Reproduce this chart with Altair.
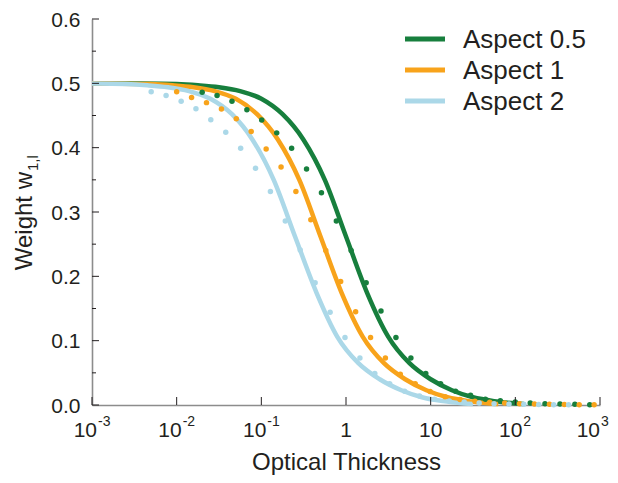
import altair as alt
import pandas as pd

series_names = ["Aspect 0.5", "Aspect 1", "Aspect 2"]
colors = ["#177f3d", "#f8a31b", "#abd8e8"]

# solid curves
tau_line_05 = [0.001, 0.00316, 0.01, 0.0178, 0.0316, 0.0562, 0.1, 0.178, 0.316, 0.562, 1.0, 1.78, 3.16, 5.62, 10.0, 17.8, 31.6, 56.2, 100.0, 126.0]
w_line_05 = [0.500, 0.4997, 0.4988, 0.497, 0.494, 0.488, 0.476, 0.452, 0.412, 0.350, 0.262, 0.174, 0.106, 0.065, 0.040, 0.023, 0.012, 0.006, 0.0025, 0.0015]
tau_line_1 = [0.001, 0.00158, 0.005, 0.0089, 0.0158, 0.0281, 0.05, 0.089, 0.158, 0.281, 0.5, 0.89, 1.58, 2.81, 5.0, 8.9, 15.8, 28.1, 50.0, 63.0]
w_line_1 = [0.500, 0.4997, 0.4988, 0.497, 0.494, 0.488, 0.476, 0.452, 0.412, 0.350, 0.262, 0.174, 0.106, 0.065, 0.040, 0.023, 0.012, 0.006, 0.0025, 0.0015]
tau_line_2 = [0.001, 0.0025, 0.0045, 0.0079, 0.014, 0.025, 0.045, 0.079, 0.14, 0.25, 0.45, 0.79, 1.4, 2.5, 4.5, 7.9, 14.0, 25.0, 31.6]
w_line_2 = [0.4996, 0.4988, 0.497, 0.494, 0.488, 0.476, 0.452, 0.412, 0.350, 0.262, 0.174, 0.106, 0.065, 0.040, 0.023, 0.012, 0.006, 0.0025, 0.0015]

# dotted series
tau_dot_05 = [0.02, 0.03, 0.045, 0.0675, 0.101, 0.152, 0.228, 0.342, 0.513, 0.769, 1.15, 1.73, 2.59, 3.89, 5.84, 8.76, 13.1, 19.7, 29.6, 44.3, 66.5, 99.8, 150, 224, 337, 505, 757]
w_dot_05 = [0.486, 0.481, 0.472, 0.459, 0.443, 0.423, 0.399, 0.367, 0.330, 0.286, 0.240, 0.190, 0.146, 0.105, 0.073, 0.049, 0.033, 0.0215, 0.015, 0.009, 0.0066, 0.0046, 0.003, 0.002, 0.0015, 0.001, 0.0005]
tau_dot_1 = [0.01, 0.015, 0.0225, 0.0338, 0.0506, 0.0759, 0.114, 0.171, 0.256, 0.384, 0.577, 0.865, 1.30, 1.95, 2.92, 4.38, 6.57, 9.85, 14.8, 22.2, 33.3, 49.9, 74.8, 112, 168, 253, 379, 568, 852]
w_dot_1 = [0.487, 0.478, 0.470, 0.460, 0.445, 0.425, 0.398, 0.370, 0.332, 0.288, 0.240, 0.192, 0.145, 0.105, 0.073, 0.048, 0.033, 0.021, 0.013, 0.0085, 0.006, 0.0043, 0.003, 0.002, 0.0015, 0.001, 0.0007, 0.0005, 0.0004]
tau_dot_2 = [0.005, 0.0075, 0.0113, 0.0169, 0.0253, 0.038, 0.057, 0.0854, 0.128, 0.192, 0.288, 0.432, 0.649, 0.973, 1.46, 2.19, 3.28, 4.93, 7.39, 11.1, 16.6, 24.9, 37.4, 56.1, 84.2, 126, 189, 284, 426]
w_dot_2 = [0.487, 0.481, 0.472, 0.4605, 0.4435, 0.424, 0.399, 0.368, 0.332, 0.286, 0.241, 0.190, 0.144, 0.105, 0.073, 0.049, 0.033, 0.0215, 0.014, 0.009, 0.0063, 0.0045, 0.003, 0.002, 0.0015, 0.001, 0.0007, 0.0005, 0.0004]

# axis ticks / labels
y_major = [0.0, 0.1, 0.2, 0.3, 0.4, 0.5, 0.6]
y_minor = [0.05, 0.15, 0.25, 0.35, 0.45, 0.55]
x_major = [0.001, 0.01, 0.1, 1, 10, 100, 1000]
xlab_neg_vals = [0.001, 0.01, 0.1]
xlab_neg_sup = ["-3", "-2", "-1"]
xlab_pos_vals = [100]
xlab_pos_sup = ["2"]
xlab_end_vals = [1000]
xlab_end_sup = ["3"]
xlab_plain_vals = [1, 10]
xlab_plain_text = ["1", "10"]

FONT = "Liberation Sans"
TXT = "#231f20"
TOP = 11
W, H = 508, 386

xs = alt.Scale(type="log", domain=[0.001, 1000], nice=False)
ys = alt.Scale(domain=[0, 0.6], nice=False, zero=False)
cs = alt.Scale(domain=series_names, range=colors)

lines = pd.concat([
    pd.DataFrame({"tau": tau_line_05, "w": w_line_05, "series": series_names[0]}),
    pd.DataFrame({"tau": tau_line_1, "w": w_line_1, "series": series_names[1]}),
    pd.DataFrame({"tau": tau_line_2, "w": w_line_2, "series": series_names[2]}),
])
dots = pd.concat([
    pd.DataFrame({"tau": tau_dot_05, "w": w_dot_05, "series": series_names[0]}),
    pd.DataFrame({"tau": tau_dot_1, "w": w_dot_1, "series": series_names[1]}),
    pd.DataFrame({"tau": tau_dot_2, "w": w_dot_2, "series": series_names[2]}),
])

x_enc = alt.X("tau:Q", scale=xs,
              axis=alt.Axis(labels=False, ticks=False, grid=False, title="Optical Thickness",
                            titleFontSize=24, titleFont=FONT, titleFontWeight="normal",
                            titleColor=TXT, titlePadding=45))
y_enc = alt.Y("w:Q", scale=ys,
              axis=alt.Axis(values=y_major, format=".1f", ticks=False, grid=False, title=None,
                            labelFontSize=21, labelFont=FONT, labelColor=TXT, labelPadding=12,
                            labelOffset=1))

line_layer = alt.Chart(lines).mark_line(strokeWidth=4.5, interpolate="monotone").encode(
    x=x_enc, y=y_enc,
    color=alt.Color("series:N", scale=cs, legend=None),
)

dot_layer = alt.Chart(dots).mark_circle(size=30, opacity=1).encode(
    x=alt.X("tau:Q", scale=xs), y=alt.Y("w:Q", scale=ys),
    color=alt.Color("series:N", scale=cs, legend=None),
)

ymaj = alt.Chart(pd.DataFrame({"v": y_major})).mark_rule(color=TXT, strokeWidth=1).encode(
    y=alt.Y("v:Q", scale=ys), x=alt.value(0), x2=alt.value(7))
ymin = alt.Chart(pd.DataFrame({"v": y_minor})).mark_rule(color=TXT, strokeWidth=1).encode(
    y=alt.Y("v:Q", scale=ys), x=alt.value(0), x2=alt.value(4))
xmaj = alt.Chart(pd.DataFrame({"v": x_major})).mark_rule(color=TXT, strokeWidth=1).encode(
    x=alt.X("v:Q", scale=xs), y=alt.value(H), y2=alt.value(H - 8))

base_y = H + 32
sup_y = H + 21


def xlabels(vals, sups, dx_base, dx_sup):
    df = pd.DataFrame({"v": vals, "s": sups, "b": ["10"] * len(vals)})
    b = alt.Chart(df).mark_text(align="right", baseline="alphabetic", fontSize=21, font=FONT,
                                color=TXT, dx=dx_base).encode(
        x=alt.X("v:Q", scale=xs), y=alt.value(base_y), text="b:N")
    s = alt.Chart(df).mark_text(align="left", baseline="alphabetic", fontSize=14, font=FONT,
                                color=TXT, dx=dx_sup).encode(
        x=alt.X("v:Q", scale=xs), y=alt.value(sup_y), text="s:N")
    return [b, s]


plain = alt.Chart(pd.DataFrame({"v": xlab_plain_vals, "t": xlab_plain_text})).mark_text(
    align="center", baseline="alphabetic", fontSize=21, font=FONT, color=TXT).encode(
    x=alt.X("v:Q", scale=xs), y=alt.value(base_y), text="t:N")

ytitle = alt.Chart(pd.DataFrame({"t": ["Weight w"]})).mark_text(
    angle=270, align="right", baseline="alphabetic", fontSize=24, font=FONT, color=TXT).encode(
    x=alt.value(-60), y=alt.value(153), text="t:N")
ysub = alt.Chart(pd.DataFrame({"t": ["1,l"]})).mark_text(
    angle=270, align="left", baseline="alphabetic", fontSize=15, font=FONT, color=TXT).encode(
    x=alt.value(-54), y=alt.value(152), text="t:N")

# manual legend
legend_rows_y = [20, 51, 82]
legend_layers = []
for name, col, ly in zip(series_names, colors, legend_rows_y):
    d = pd.DataFrame({"t": [name]})
    legend_layers.append(alt.Chart(d).mark_rule(color=col, strokeWidth=5).encode(
        x=alt.value(313), x2=alt.value(353), y=alt.value(ly)))
    legend_layers.append(alt.Chart(d).mark_text(
        align="left", baseline="middle", fontSize=26, font=FONT, color=TXT).encode(
        x=alt.value(371), y=alt.value(ly + 1), text="t:N"))

chart = alt.layer(
    line_layer, dot_layer, ymaj, ymin, xmaj,
    *xlabels(xlab_neg_vals, xlab_neg_sup, 5, 6),
    *xlabels(xlab_pos_vals, xlab_pos_sup, 7, 8),
    *xlabels(xlab_end_vals, xlab_end_sup, 0, 1),
    plain, ytitle, ysub, *legend_layers,
).properties(
    width=W, height=H,
    autosize=alt.AutoSizeParams(type="none"),
    padding={"left": 84, "top": TOP, "right": 10, "bottom": 70},
).configure_view(stroke=None).configure_axis(
    domainColor="#8c8c8c", domainWidth=1.6,
)

chart.save("out.html", embed_options={"renderer": "svg", "actions": False})
